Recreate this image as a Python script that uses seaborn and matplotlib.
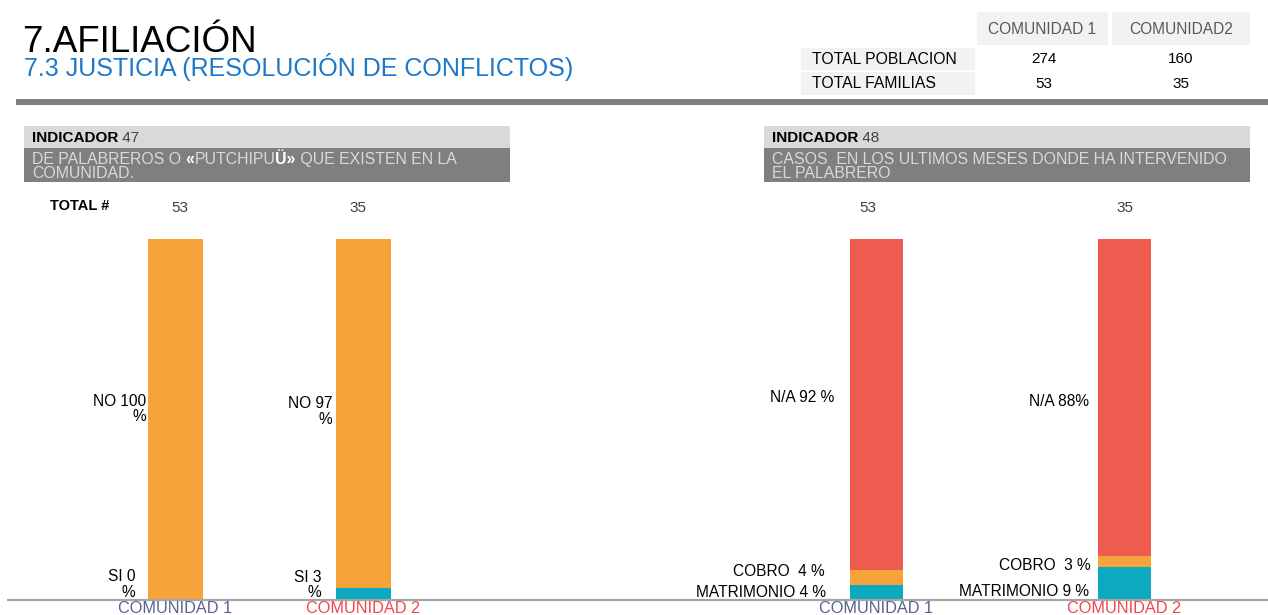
import matplotlib
matplotlib.use("Agg")
import matplotlib.pyplot as plt
from matplotlib.patches import Rectangle
import seaborn as sns

# ---------------------------------------------------------------- data
communities = ["COMUNIDAD 1", "COMUNIDAD 2"]

table_columns = ["COMUNIDAD 1", "COMUNIDAD2"]
table_rows = ["TOTAL POBLACION", "TOTAL FAMILIAS"]
total_poblacion = [274, 160]
total_familias = [53, 35]

# Indicador 47: palabreros / putchipuü en la comunidad (%)
ind47_totals = [53, 35]
ind47_si = [0, 3]
ind47_no = [100, 97]

# Indicador 48: casos donde ha intervenido el palabrero (%)
ind48_totals = [53, 35]
ind48_matrimonio = [4, 9]
ind48_cobro = [4, 3]
ind48_na = [92, 88]

# ---------------------------------------------------------------- style
W, H = 1268, 615
TEAL = "#0BAAC1"
ORANGE = "#F6A33A"
RED = "#EE5B4F"
COMM_COLORS = ["#56628F", "#F2454D"]
DARK_BOX = "#7F7F7F"
LIGHT_BOX = "#D9D9D9"
CELL = "#F2F2F2"
LABEL_SIZE = 11.2

sns.set_theme(style="white")
plt.rcParams["font.family"] = ["Liberation Sans", "DejaVu Sans"]

fig = plt.figure(figsize=(W / 100, H / 100), dpi=100)

# overlay in pixel coordinates for the page furniture
ov = fig.add_axes([0, 0, 1, 1], zorder=3)
ov.set_xlim(0, W)
ov.set_ylim(H, 0)
ov.axis("off")
ov.patch.set_alpha(0)


def rect(x0, y0, x1, y1, color):
    ov.add_patch(Rectangle((x0, y0), x1 - x0, y1 - y0, facecolor=color,
                           edgecolor="none", zorder=0))


def chain(x, y, pieces, size):
    """Write text pieces one after another on the same baseline."""
    prev = None
    for text, color, weight in pieces:
        if prev is None:
            prev = ov.text(x, y, text, color=color, fontsize=size,
                           fontweight=weight, ha="left", va="baseline")
        else:
            prev = ov.annotate(text, xy=(1, 0), xycoords=prev, color=color,
                               fontsize=size, fontweight=weight,
                               ha="left", va="bottom")
    return prev


# titles
ov.text(22, 52, "7.AFILIACIÓN", fontsize=26.5, color="black", va="baseline")
ov.text(24, 76, "7.3 JUSTICIA (RESOLUCIÓN DE CONFLICTOS)", fontsize=18,
        color="#1E78C8", va="baseline")

# summary table
rect(977, 12, 1108, 45, CELL)
rect(1112, 12, 1250, 45, CELL)
ov.text(1042.5, 29, table_columns[0], fontsize=11.2, color="#595959",
        ha="center", va="center")
ov.text(1181, 29, table_columns[1], fontsize=11.2, color="#595959",
        ha="center", va="center")
col_x = [1044, 1181]
for (label, vals, y0, y1) in [(table_rows[0], total_poblacion, 48, 70),
                               (table_rows[1], total_familias, 72, 95)]:
    rect(801, y0, 975, y1, CELL)
    yc = (y0 + y1) / 2
    ov.text(812, yc, label, fontsize=11.3, color="black", va="center")
    for cx, v in zip(col_x, vals):
        ov.text(cx, yc, str(v), fontsize=11, color="black",
                ha="center", va="center")

# thick separator
rect(16, 99, W, 105, "#7F7F7F")

# indicator headers
headers = [
    (24, 510, "47",
     [[("DE PALABREROS O ", LIGHT_BOX, "normal"), ("«", "white", "bold"),
       ("PUTCHIPU", LIGHT_BOX, "normal"), ("Ü»", "white", "bold"),
       (" QUE EXISTEN EN LA", LIGHT_BOX, "normal")],
      [("COMUNIDAD.", LIGHT_BOX, "normal")]]),
    (764, 1250, "48",
     [[("CASOS  EN LOS ULTIMOS MESES DONDE HA INTERVENIDO", LIGHT_BOX, "normal")],
      [("EL PALABRERO", LIGHT_BOX, "normal")]]),
]
for x0, x1, num, lines in headers:
    rect(x0, 126, x1, 148, LIGHT_BOX)
    rect(x0, 148, x1, 182, DARK_BOX)
    chain(x0 + 8, 142, [("INDICADOR", "black", "bold"),
                        (" " + num, "#404040", "normal")], 11)
    for k, line in enumerate(lines):
        chain(x0 + 8, 164 + 14 * k, line, 11.4)

ov.text(50, 210, "TOTAL #", fontsize=10.5, fontweight="bold", color="black",
        va="baseline")

# baseline under both charts
ov.plot([7, W], [599.5, 599.5], color="#A6A6A6", lw=1.6, solid_capstyle="butt")

# ---------------------------------------------------------------- bar charts
PLOT_BOTTOM, PLOT_TOP = 599, 239


def make_axes(px0, px1, centre0, spacing):
    ax = fig.add_axes([px0 / W, (H - PLOT_BOTTOM) / H, (px1 - px0) / W,
                       (PLOT_BOTTOM - PLOT_TOP) / H], zorder=2)
    ax.patch.set_alpha(0)
    return ax, ((px0 - centre0) / spacing, (px1 - centre0) / spacing)


def stacked(ax, layers, width, xlim):
    cum = [0] * len(communities)
    tops = []
    for vals, color in layers:
        cum = [c + v for c, v in zip(cum, vals)]
        tops.append((list(cum), color))
    for cumvals, color in reversed(tops):
        sns.barplot(x=communities, y=cumvals, color=color, width=width,
                    saturation=1, errorbar=None, linewidth=0, ax=ax)
    ax.set_xlim(*xlim)
    ax.set_ylim(0, 100)
    ax.set_xlabel("")
    ax.set_ylabel("")
    ax.set_yticks([])
    for s in ax.spines.values():
        s.set_visible(False)
    ax.tick_params(axis="x", length=0, pad=1.5)
    ax.set_xticks(range(len(communities)))
    ax.set_xticklabels(communities, fontsize=11.7)
    for t, c in zip(ax.get_xticklabels(), COMM_COLORS):
        t.set_color(c)


# Indicator 47
ax47, xl47 = make_axes(16, 640, 175, 188)
w47 = 55 / 188
stacked(ax47, [(ind47_si, TEAL), (ind47_no, ORANGE)], w47, xl47)

# Indicator 48
ax48, xl48 = make_axes(640, W, 876, 248.5)
w48 = 53 / 248.5
stacked(ax48, [(ind48_matrimonio, TEAL), (ind48_cobro, ORANGE),
               (ind48_na, RED)], w48, xl48)

# segment labels: (format, values, label height in %, pixel gap to the bar)
labels47 = [
    ("NO {}\n%", ind47_no, [52.8, 52.1], [-1, -3]),
    ("SI {}\n%", ind47_si, [4.0, 3.9], [-12, -14]),
]
labels48 = [
    ("N/A {} %", ind48_na[:1], [56.1], [-15]),
    ("N/A {}%", [None] + ind48_na[1:], [None, 55.0], [None, -9]),
    ("COBRO  {} %", ind48_cobro, [7.5, 9.2], [-25, -7]),
    ("MATRIMONIO {} %", ind48_matrimonio, [1.9, 2.2], [-23, -9]),
]


def draw_labels(ax, width, specs):
    for fmt, vals, ys, gaps in specs:
        for i, (v, y, g) in enumerate(zip(vals, ys, gaps)):
            if v is None:
                continue
            ax.annotate(fmt.format(v), xy=(i - width / 2, y),
                        xytext=(g * 0.72, 0), textcoords="offset points",
                        ha="right", va="center", multialignment="right",
                        fontsize=LABEL_SIZE, color="black", linespacing=1.05)


draw_labels(ax47, w47, labels47)
draw_labels(ax48, w48, labels48)

# totals above each bar
for ax, totals, dxs in [(ax47, ind47_totals, [5, -5]),
                        (ax48, ind48_totals, [-8, 0])]:
    for i, (t, dx) in enumerate(zip(totals, dxs)):
        ax.annotate(str(t), xy=(i, 100), xytext=(dx * 0.72, 31 * 0.72),
                    textcoords="offset points", ha="center", va="center",
                    fontsize=11, color="#404040")

fig.savefig("out.png", dpi=100)
